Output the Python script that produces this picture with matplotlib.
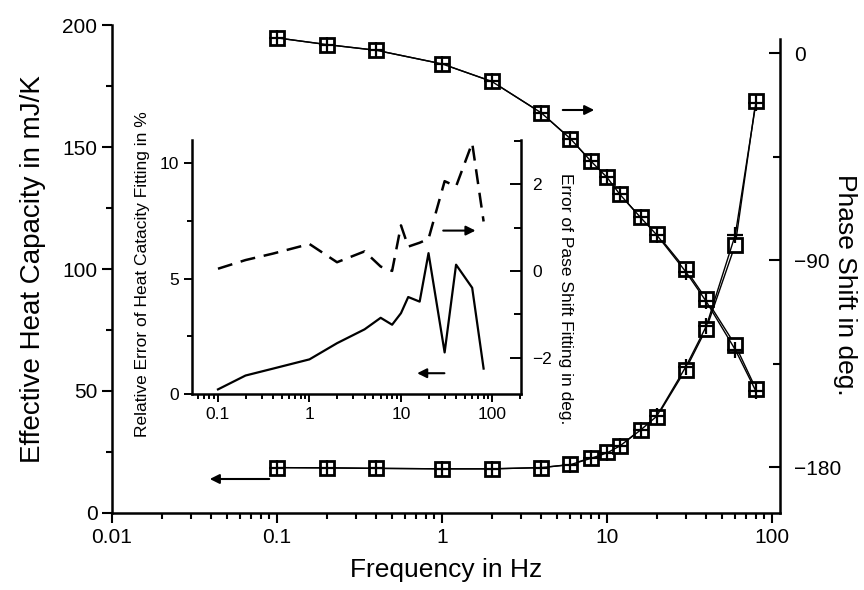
import matplotlib
matplotlib.use("Agg")
import matplotlib.pyplot as plt
from matplotlib.ticker import MultipleLocator, LogLocator, NullFormatter, FixedLocator, FixedFormatter

plt.rcParams['font.family'] = ['Liberation Sans', 'DejaVu Sans']

freq = [0.1, 0.2, 0.4, 1, 2, 4, 6, 8, 10, 12, 16, 20, 30, 40, 60, 80]

# effective heat capacity in mJ/K, measured and fitted
cap_meas = [18.6, 18.5, 18.3, 18.1, 18.1, 18.6, 19.9, 22.6, 24.8, 27.5, 34.2, 39.2, 58.8, 75.5, 110, 169]
cap_fit = [18.6, 18.5, 18.3, 18.1, 18.1, 18.6, 19.8, 22.4, 24.6, 27.5, 34.0, 39.6, 59.8, 76.5, 114, 168]

# phase shift in deg, measured and fitted
phase_meas = [6.6, 3.7, 1.2, -4.7, -12.3, -26, -37.2, -47, -54, -61.5, -71.5, -78.5, -94, -107, -127, -146]
phase_fit = [6.6, 3.7, 1.2, -4.7, -12.3, -26, -37.2, -47, -54, -61.5, -71.5, -79, -95, -108, -129, -147]

# inset: fitting errors
cap_err = [0.2, 0.8, 1.1, 1.5, 2.2, 2.8, 3.3, 3.0, 3.5, 4.2, 4.0, 6.1, 1.8, 5.6, 4.6, 1.1]
phase_err = [0.05, 0.25, 0.4, 0.62, 0.2, 0.45, 0.1, 0.0, 1.05, 0.56, 0.65, 0.74, 2.07, 1.95, 2.95, 1.14]

fig = plt.figure(figsize=(8.64, 5.9), dpi=100)
ax = fig.add_axes([112/864, 77/590, 668/864, 488/590])

ax.plot(freq, cap_meas, color='black', lw=1.0, marker='s', ms=10, mfc='white', mec='black', mew=2)
ax.plot(freq, cap_fit, color='black', lw=1.0, marker='+', ms=12, mew=1.6)
ax.set_xscale('log')
ax.set_xlim(0.01, 112)
ax.set_ylim(0, 200)
ax.yaxis.set_major_locator(MultipleLocator(50))
ax.yaxis.set_minor_locator(MultipleLocator(25))
ax.xaxis.set_major_locator(FixedLocator([0.01, 0.1, 1, 10, 100]))
ax.xaxis.set_major_formatter(FixedFormatter(['0.01', '0.1', '1', '10', '100']))
ax.xaxis.set_minor_locator(LogLocator(base=10, subs=range(2, 10)))
ax.xaxis.set_minor_formatter(NullFormatter())
ax.spines['top'].set_visible(False)
ax.spines['right'].set_visible(False)
for s in ['left', 'bottom']:
    ax.spines[s].set_linewidth(1.8)
ax.tick_params(which='both', direction='out', width=1.5, labelsize=15)
ax.tick_params(which='major', length=7)
ax.tick_params(which='minor', length=4)
ax.set_xlabel('Frequency in Hz', fontsize=19, labelpad=8)
ax.set_ylabel('Effective Heat Capacity in mJ/K', fontsize=20, labelpad=12)

ax2 = ax.twinx()
ax2.plot(freq, phase_meas, color='black', lw=1.0, marker='s', ms=10, mfc='white', mec='black', mew=2)
ax2.plot(freq, phase_fit, color='black', lw=1.0, marker='+', ms=12, mew=1.6)
ax2.set_ylim(-200, 12.2)
ax2.yaxis.set_major_locator(FixedLocator([0, -90, -180]))
ax2.yaxis.set_minor_locator(FixedLocator([-45, -135]))
for s in ['top', 'left', 'bottom']:
    ax2.spines[s].set_visible(False)
ax2.spines['right'].set_linewidth(1.8)
ax2.spines['right'].set_bounds(-200, 6)
ax2.tick_params(which='both', direction='in', width=1.5, labelsize=15, pad=10)
ax2.tick_params(which='major', length=8)
ax2.tick_params(which='minor', length=5)
fig.text(845/864, 1 - 285/590, 'Phase Shift in deg.', rotation=-90, fontsize=19,
         ha='center', va='center')

arrow = dict(arrowstyle='-|>', color='black', lw=1.5, mutation_scale=14)
ax.annotate('', xy=(597/864, 1 - 110/590), xytext=(560/864, 1 - 110/590),
            xycoords='figure fraction', textcoords='figure fraction', arrowprops=arrow)
ax.annotate('', xy=(207/864, 1 - 479/590), xytext=(272/864, 1 - 479/590),
            xycoords='figure fraction', textcoords='figure fraction', arrowprops=arrow)

# inset
ins = fig.add_axes([192/864, 196/590, 329/864, 254/590])
ins.plot(freq, cap_err, color='black', lw=1.6)
ins.set_xscale('log')
ins.set_xlim(0.052, 205)
ins.set_ylim(0, 11)
ins.yaxis.set_major_locator(MultipleLocator(5))
ins.yaxis.set_minor_locator(MultipleLocator(2.5))
ins.xaxis.set_major_locator(FixedLocator([0.1, 1, 10, 100]))
ins.xaxis.set_major_formatter(FixedFormatter(['0.1', '1', '10', '100']))
ins.xaxis.set_minor_locator(LogLocator(base=10, subs=range(2, 10)))
ins.xaxis.set_minor_formatter(NullFormatter())
ins.spines['top'].set_visible(False)
ins.spines['right'].set_visible(False)
for s in ['left', 'bottom']:
    ins.spines[s].set_linewidth(1.8)
ins.tick_params(which='both', direction='out', width=1.4, labelsize=12.5)
ins.tick_params(which='major', length=6)
ins.tick_params(which='minor', length=3.5)
ins.patch.set_alpha(0)

ins2 = ins.twinx()
ins2.plot(freq, phase_err, color='black', lw=1.8, ls=(0, (6, 3.5)))
ins2.set_ylim(-2.84, 3.02)
ins2.yaxis.set_major_locator(MultipleLocator(2))
ins2.yaxis.set_minor_locator(MultipleLocator(1))
for s in ['top', 'left', 'bottom']:
    ins2.spines[s].set_visible(False)
ins2.spines['right'].set_linewidth(1.8)
ins2.tick_params(which='both', direction='in', width=1.4, labelsize=12.5, pad=8)
ins2.tick_params(which='major', length=8)
ins2.tick_params(which='minor', length=5)

fig.text(143/864, 1 - 274/590, 'Relative Error of Heat Catacity Fitting in %', rotation=90,
         fontsize=12.5, ha='center', va='center')
fig.text(566/864, 1 - 299/590, 'Error of Pase Shift Fitting in deg.', rotation=-90,
         fontsize=12.5, ha='center', va='center')

ins.annotate('', xy=(14, 0.9), xytext=(32, 0.9), arrowprops=arrow)
ins2.annotate('', xy=(70, 0.93), xytext=(27, 0.93), arrowprops=arrow)

fig.savefig('out.png', dpi=100)
